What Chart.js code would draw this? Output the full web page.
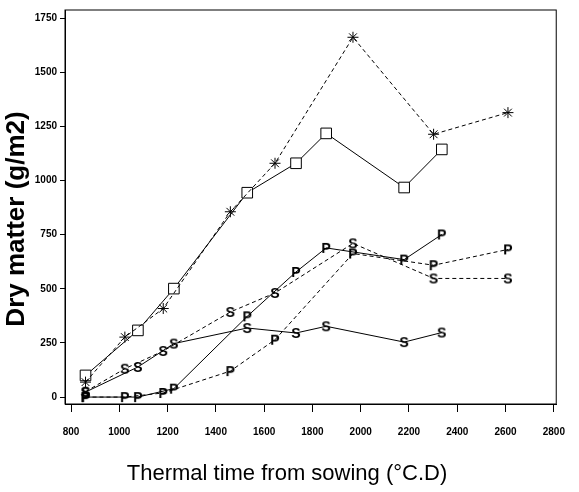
<!DOCTYPE html>
<html>
<head>
<meta charset="utf-8">
<script src="https://cdn.jsdelivr.net/npm/chart.js@4"></script>
<style>
  html, body { margin: 0; padding: 0; background: #fff; }
</style>
</head>
<body>
<canvas id="myChart" width="579" height="492"></canvas>
<script>
// thermal time of the two sowings
const solidX = [860, 1077, 1226, 1530, 1732, 1857, 2180, 2336];
const dashedX = [860, 1023, 1182, 1460, 1645, 1968, 2302, 2610];

// dry matter (g/m2)
const squareVals = [100, 308, 501, 944, 1080, 1218, 968, 1144];
const starVals = [69, 277, 409, 856, 1080, 1662, 1214, 1314];
const sSolidVals = [23, 139, 247, 319, 296, 327, 254, 298];
const sDashedVals = [25, 131, 213, 393, 481, 710, 548, 548];
const pSolidVals = [0, 0, 39, 373, 578, 689, 635, 751];
const pDashedVals = [0, 0, 19, 120, 265, 663, 609, 682];

const xTicks = [800, 1000, 1200, 1400, 1600, 1800, 2000, 2200, 2400, 2600, 2800];
const yTicks = [0, 250, 500, 750, 1000, 1250, 1500, 1750];

function letter(ch) {
  const c = document.createElement('canvas');
  c.width = 16;
  c.height = 16;
  const g = c.getContext('2d');
  g.font = 'bold 14px "Liberation Sans", Arial, sans-serif';
  g.fillStyle = '#000';
  g.textAlign = 'center';
  g.textBaseline = 'middle';
  g.fillText(ch, 8, 9);
  return c;
}

function pts(xs, ys) {
  return xs.map((x, i) => ({ x: x, y: ys[i] }));
}

function series(xs, ys, dashed, style, radius) {
  return {
    data: pts(xs, ys),
    borderColor: '#000',
    backgroundColor: '#fff',
    borderWidth: 1,
    borderDash: dashed ? [4, 3] : [],
    pointStyle: style,
    pointRadius: radius,
    pointBorderColor: '#000',
    pointBackgroundColor: '#fff',
    pointBorderWidth: 1,
    tension: 0
  };
}

const frame = {
  id: 'frame',
  afterDraw(chart) {
    const { ctx, chartArea: a } = chart;
    ctx.save();
    ctx.strokeStyle = '#000';
    ctx.lineWidth = 1;
    ctx.strokeRect(a.left, a.top, a.right - a.left, a.bottom - a.top);

    ctx.fillStyle = '#000';
    ctx.textAlign = 'center';
    ctx.textBaseline = 'middle';
    ctx.font = '22px "Liberation Sans", Arial, sans-serif';
    ctx.fillText('Thermal time from sowing (°C.D)', 287, 474);

    ctx.translate(17, 219);
    ctx.rotate(-Math.PI / 2);
    ctx.font = 'bold 26px "Liberation Sans", Arial, sans-serif';
    ctx.fillText('Dry matter (g/m2)', 0, 0);
    ctx.restore();
  }
};

const tickFont = { family: '"Liberation Sans", Arial, sans-serif', size: 10, weight: 'bold' };
const plain = v => String(v);

new Chart(document.getElementById('myChart').getContext('2d'), {
  type: 'line',
  data: {
    datasets: [
      series(solidX, pSolidVals, false, letter('P'), 8),
      series(dashedX, pDashedVals, true, letter('P'), 8),
      series(solidX, sSolidVals, false, letter('S'), 8),
      series(dashedX, sDashedVals, true, letter('S'), 8),
      series(dashedX, starVals, true, 'star', 5.5),
      series(solidX, squareVals, false, 'rect', 7.5)
    ]
  },
  options: {
    responsive: false,
    animation: false,
    events: [],
    layout: { padding: { top: 10, right: 12, left: 0, bottom: 0 } },
    plugins: { legend: { display: false }, tooltip: { enabled: false } },
    scales: {
      x: {
        type: 'linear',
        min: 775,
        max: 2810,
        afterBuildTicks: s => { s.ticks = xTicks.map(v => ({ value: v })); },
        afterFit: s => { s.height = 88; },
        grid: { drawOnChartArea: false, tickLength: 8, color: '#000' },
        border: { color: '#000', width: 1 },
        ticks: { color: '#000', font: tickFont, padding: 14, maxRotation: 0, autoSkip: false, callback: plain }
      },
      y: {
        min: -32,
        max: 1788,
        afterBuildTicks: s => { s.ticks = yTicks.map(v => ({ value: v })); },
        afterFit: s => { s.width = 65; },
        grid: { drawOnChartArea: false, tickLength: 5, color: '#000' },
        border: { color: '#000', width: 1 },
        ticks: { color: '#000', font: tickFont, padding: 3, callback: plain }
      }
    }
  },
  plugins: [frame]
});
</script>
</body>
</html>
